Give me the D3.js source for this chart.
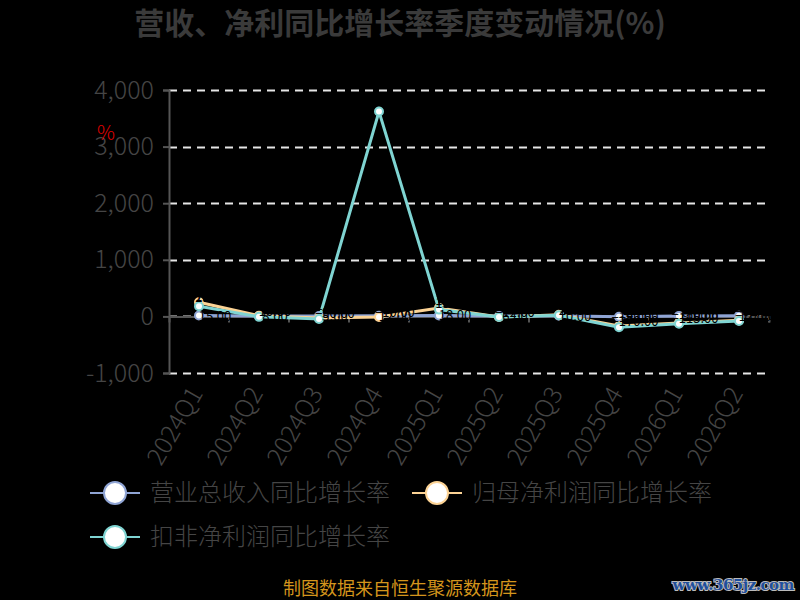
<!DOCTYPE html>
<html>
<head>
<meta charset="utf-8">
<script src="https://cdn.jsdelivr.net/npm/d3@7"></script>
<style>
  body { margin: 0; background: #000; }
  svg { display: block; font-family: "Noto Sans CJK SC", "Noto Sans", sans-serif; }
  .axisGraph text { fill: #454545; font-size: 25px; font-weight: 300; font-family: "Noto Sans CJK SC", "Noto Sans", sans-serif; }
  .axisGraph path, .axisGraph line { stroke: #555; }
</style>
</head>
<body>
<svg id="chart" width="800" height="600"></svg>
<script>

var quarters = ["2024Q1","2024Q2","2024Q3","2024Q4","2025Q1","2025Q2","2025Q3","2025Q4","2026Q1","2026Q2"];
var revenueGrowth = [15, 8, 5, 12, 18, 6, 10, -8, 9, 12];
var parentProfitGrowth = [250, 10, -30, -10, 150, -12, 28, -170, -115, -70];
var deductedProfitGrowth = [180, -8, -45, 3620, 120, -10, 22, -190, -130, -80];
var yTicks = [-1000, 0, 1000, 2000, 3000, 4000];

var seriesNames = ["营业总收入同比增长率", "归母净利润同比增长率", "扣非净利润同比增长率"];
var seriesColors = ["#8fa4d4", "#fcd395", "#7fd4d2"];

var svg = d3.select("#chart");
svg.margin = {left: 169, top: 90, right: 31, bottom: 227};
svg.width = 800 - svg.margin.left - svg.margin.right;
svg.height = 600 - svg.margin.top - svg.margin.bottom;

svg.append("rect").attr("width", 800).attr("height", 600).attr("fill", "#000");

// title
svg.append("text")
  .attr("x", 400).attr("y", 34)
  .attr("text-anchor", "middle")
  .attr("fill", "#3a3a3a")
  .style("font-size", "30px").style("font-weight", "bold")
  .text("营收、净利同比增长率季度变动情况(%)");

var g = svg.append("g").attr("transform", "translate(" + [svg.margin.left, svg.margin.top] + ")");

var x = d3.scaleBand().domain(quarters).range([0, svg.width]);
var y = d3.scaleLinear().domain([-1000, 4000]).range([svg.height, 0]);

// grid
g.append("g").selectAll("line").data(yTicks)
  .enter().append("line")
  .attr("x1", 0).attr("x2", svg.width)
  .attr("y1", function(d){ return Math.round(y(d)) + 0.5; })
  .attr("y2", function(d){ return Math.round(y(d)) + 0.5; })
  .attr("stroke", "#e6e6e6").attr("stroke-width", 2)
  .attr("stroke-dasharray", "8,6");

// y axis
var axisY = g.append("g").attr("class", "axisGraph")
  .call(d3.axisLeft(y).tickValues(yTicks).tickSize(6).tickPadding(9)
    .tickFormat(function(d){ return d3.format(",")(d).replace("\u2212", "-"); }));
axisY.select(".domain").attr("stroke-width", 2);
axisY.selectAll(".tick line").attr("stroke-width", 2);

// y unit
svg.append("text")
  .attr("x", 106).attr("y", 140)
  .attr("text-anchor", "middle")
  .attr("fill", "#e00000")
  .style("font-size", "20px").style("font-weight", "300")
  .text("%");

// x axis on zero
var axisX = g.append("g").attr("class", "axisGraph")
  .attr("transform", "translate(0," + y(0) + ")")
  .call(d3.axisBottom(x).tickSizeOuter(6).tickSizeInner(6).tickFormat(""));
axisX.select(".domain").attr("stroke-width", 2);
axisX.selectAll(".tick").each(function(d){
  d3.select(this).attr("transform", "translate(" + (x(d) + x.bandwidth()) + ",0)");
});
axisX.selectAll(".tick line").attr("stroke-width", 2);

// x labels at the bottom
g.append("g").attr("class", "axisGraph").selectAll("text").data(quarters).enter().append("text")
  .attr("transform", function(d){
    return "translate(" + (x(d) + x.bandwidth() / 2 - 3) + "," + (svg.height + 16) + ") rotate(-60)";
  })
  .attr("text-anchor", "end")
  .attr("dy", "0.35em")
  .text(function(d){ return d; });

var allSeries = [revenueGrowth, parentProfitGrowth, deductedProfitGrowth];

var line = d3.line()
  .x(function(d, i){ return x(quarters[i]) + x.bandwidth() / 2; })
  .y(function(d){ return y(d); });

allSeries.forEach(function(values, k){
  var s = g.append("g");
  s.append("path")
    .attr("d", line(values))
    .attr("fill", "none")
    .attr("stroke", seriesColors[k])
    .attr("stroke-width", 3);
  s.selectAll("circle").data(values).enter().append("circle")
    .attr("cx", function(d, i){ return x(quarters[i]) + x.bandwidth() / 2; })
    .attr("cy", function(d){ return y(d); })
    .attr("r", 4)
    .attr("fill", "#fff")
    .attr("stroke", seriesColors[k])
    .attr("stroke-width", 2);
});

// black value labels (as in the reference, mostly hidden on the dark background)
allSeries.forEach(function(values, k){
  g.append("g").selectAll("text").data(values).enter().append("text")
    .attr("x", function(d, i){ return x(quarters[i]) + x.bandwidth() / 2 + 16; })
    .attr("y", function(d){ return y(d) + 5 - 5 * k; })
    .attr("text-anchor", "middle")
    .attr("fill", "#000")
    .style("font-size", "13px")
    .text(function(d){ return d3.format(".2f")(d); });
});

// legend
var legendPos = [[90, 493], [412, 493], [90, 537]];
seriesNames.forEach(function(name, k){
  var lg = svg.append("g").attr("transform", "translate(" + legendPos[k] + ")");
  lg.append("line").attr("x1", 0).attr("x2", 50).attr("y1", 0).attr("y2", 0)
    .attr("stroke", seriesColors[k]).attr("stroke-width", 2);
  lg.append("circle").attr("cx", 25).attr("cy", 0).attr("r", 11)
    .attr("fill", "#fff").attr("stroke", seriesColors[k]).attr("stroke-width", 2);
  lg.append("text").attr("x", 60).attr("y", 0).attr("dy", "0.35em")
    .attr("fill", "#454545").style("font-size", "24px").style("font-weight", "300")
    .text(name);
});

// source
svg.append("text")
  .attr("x", 400).attr("y", 595)
  .attr("text-anchor", "middle")
  .attr("fill", "#d4951c")
  .style("font-size", "18px")
  .text("制图数据来自恒生聚源数据库");

svg.append("text")
  .attr("x", 794).attr("y", 590)
  .attr("text-anchor", "end")
  .attr("fill", "#1f4f9c")
  .attr("stroke", "#bbb").attr("stroke-width", 2).attr("paint-order", "stroke")
  .style("font-size", "15px").style("font-weight", "bold")
  .style("font-family", "'DejaVu Serif', serif")
  .style("letter-spacing", "-0.5px")
  .text("www.365jz.com");

</script>
</body>
</html>
